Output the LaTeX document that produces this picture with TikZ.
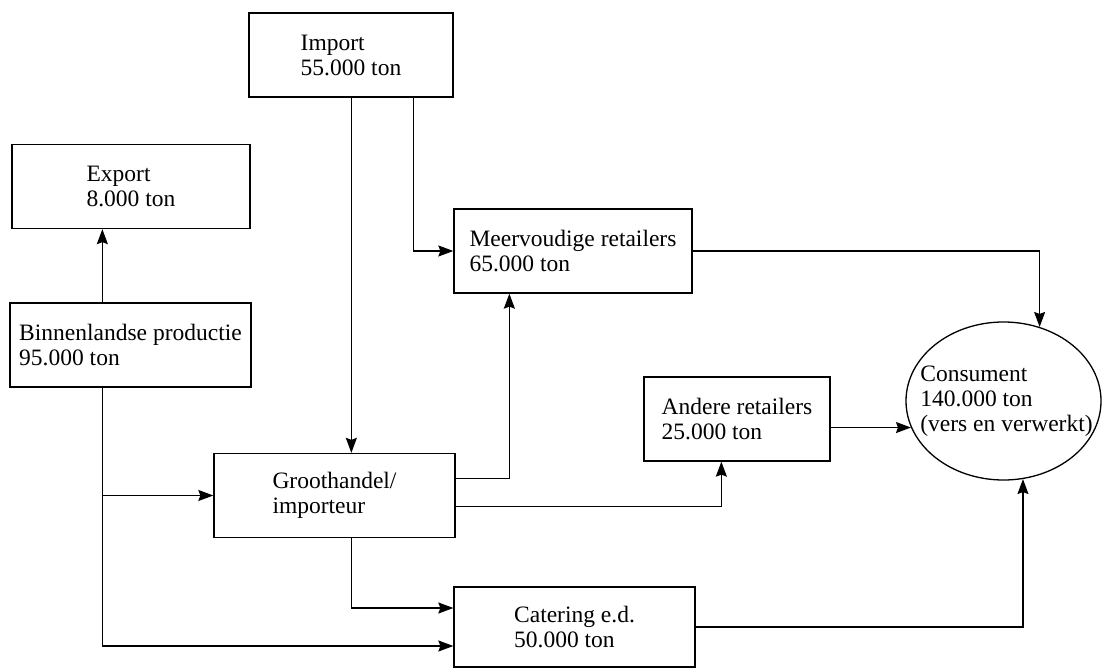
\documentclass[tikz,border=0pt]{standalone}
\usepackage{fontspec}
\setmainfont{Liberation Serif}
\usetikzlibrary{arrows.meta,shapes.geometric}

\begin{document}
\begin{tikzpicture}[x=1pt, y=-1pt, >={Stealth[length=15pt,width=11pt,inset=2pt]},
    line width=1.3pt,
    every node/.style={font=\fontsize{23.5pt}{25pt}\selectfont},
    box/.style={draw, rectangle, align=left, minimum height=84pt}]
	\useasboundingbox (0,0) rectangle (1102,668);

	% Nodes {import, export, binn, meer, andere, groot, cat, cons}
	\node [box, minimum width=204pt] (import) at (351,55)    {Import\\55.000 ton};
	\node [box, minimum width=238pt] (export) at (131,186.5) {Export\\8.000 ton};
	\node [box, minimum width=241pt] (binn)   at (130.5,345) {Binnenlandse productie\\95.000 ton};
	\node [box, minimum width=238pt] (meer)   at (573,251)   {Meervoudige retailers\\65.000 ton};
	\node [box, minimum width=186pt] (andere) at (737,419)   {Andere retailers\\25.000 ton};
	\node [box, minimum width=241pt] (groot)  at (334.5,495.5) {Groothandel/\\importeur};
	\node [box, minimum width=241pt, minimum height=80pt] (cat) at (574.5,627) {Catering e.d.\\50.000 ton};
	\node [draw, ellipse, minimum width=195pt, minimum height=158pt, inner sep=0pt,
	       label={[align=left, xshift=3pt]center:{Consument\\140.000 ton\\(vers en verwerkt)}}]
	       (cons) at (1003.5,401) {};

	% Paths
	\draw [->] ([xshift=93pt]binn.north west) -- ([xshift=93pt]binn.north west |- export.south);
	\draw [->] ([xshift=103pt]import.south west) -- ([xshift=103pt]import.south west |- groot.north);
	\draw [->] ([xshift=165pt]import.south west) |- (meer.west);
	\draw [->] ([xshift=93pt]binn.south west) |- (groot.west);
	\draw [->] ([xshift=93pt]binn.south west) |- ([yshift=-19pt]cat.west);
	\draw [->] ([xshift=138pt]groot.south west) |- ([yshift=19pt]cat.west);
	\draw [->] ([yshift=17pt]groot.east) -| ([xshift=56pt]meer.south west);
	\draw [->] ([yshift=-11pt]groot.east) -| ([xshift=78pt]andere.south west);
	\draw [->] (meer.east) -| (cons.64.2);
	\draw [->] (cons.196.6 -| andere.east) -- (cons.196.6);
	\draw [->] (cat.east) -| (cons.284.1);

\end{tikzpicture}
\end{document}
